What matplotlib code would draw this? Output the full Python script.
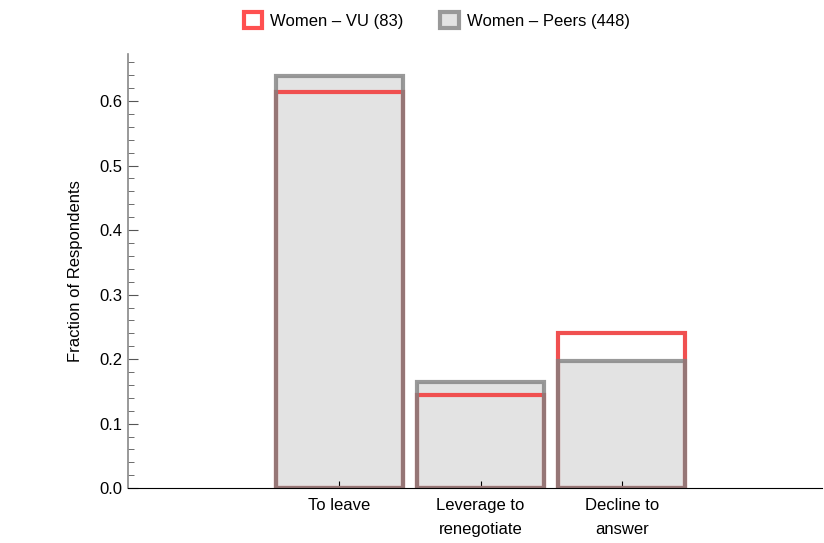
import numpy as np
import matplotlib.pyplot as plt
from matplotlib.patches import Patch
from matplotlib.ticker import MultipleLocator

plt.rcParams['font.family'] = ['Liberation Sans', 'DejaVu Sans']

categories = ['To leave', 'Leverage to\nrenegotiate', 'Decline to\nanswer']
vu = [0.6145, 0.1446, 0.2410]      # Women - VU (83)
peers = [0.6384, 0.1652, 0.1964]   # Women - Peers (448)

x = np.arange(len(categories))
w = 0.9
fs = 12

fig = plt.figure(figsize=(8.24, 5.43), dpi=100)
ax = fig.add_axes([0.155, 0.101, 0.843, 0.7996])

# peers fill, then VU outline, then peers outline over it
ax.bar(x, peers, width=w, color='#e3e3e3', edgecolor='none', zorder=1)
ax.bar(x, vu, width=w, facecolor='none', edgecolor='#f05050', linewidth=3, zorder=2)
ax.bar(x, peers, width=w, facecolor='none', edgecolor=(0.5, 0.5, 0.5, 0.8), linewidth=3, zorder=3)

ax.set_xlim(-1.5, 3.42)
ax.set_ylim(0, 0.673)
ax.set_xticks(x)
ax.set_xticklabels(categories, fontsize=fs, linespacing=1.75, va='top')
ax.yaxis.set_major_locator(MultipleLocator(0.1))
ax.yaxis.set_minor_locator(MultipleLocator(0.02))
ax.yaxis.set_major_formatter(plt.FormatStrFormatter('%.1f'))
ax.tick_params(axis='y', which='major', direction='in', length=7, color='#555555', labelsize=fs)
ax.tick_params(axis='y', which='minor', direction='in', length=4, color='#555555')
ax.tick_params(axis='x', direction='in', length=5, labelsize=fs, pad=7)

for s in ['top', 'right']:
    ax.spines[s].set_visible(False)
ax.spines['left'].set_color('#888888')
ax.spines['left'].set_linewidth(1.2)
ax.spines['bottom'].set_color('black')
ax.spines['bottom'].set_zorder(5)

ax.set_ylabel('Fraction of Respondents', fontsize=fs, labelpad=12)

handles = [Patch(facecolor='white', edgecolor='#ff5050', linewidth=3),
           Patch(facecolor='#e3e3e3', edgecolor='#999999', linewidth=3)]
fig.legend(handles, ['Women \u2013 VU (83)', 'Women \u2013 Peers (448)'],
           loc='center', bbox_to_anchor=(0.53, 0.962), ncol=2, frameon=False,
           fontsize=fs, handlelength=1.1, handleheight=1.1, columnspacing=2.2,
           handletextpad=0.5)

fig.savefig('out.png', dpi=100)
